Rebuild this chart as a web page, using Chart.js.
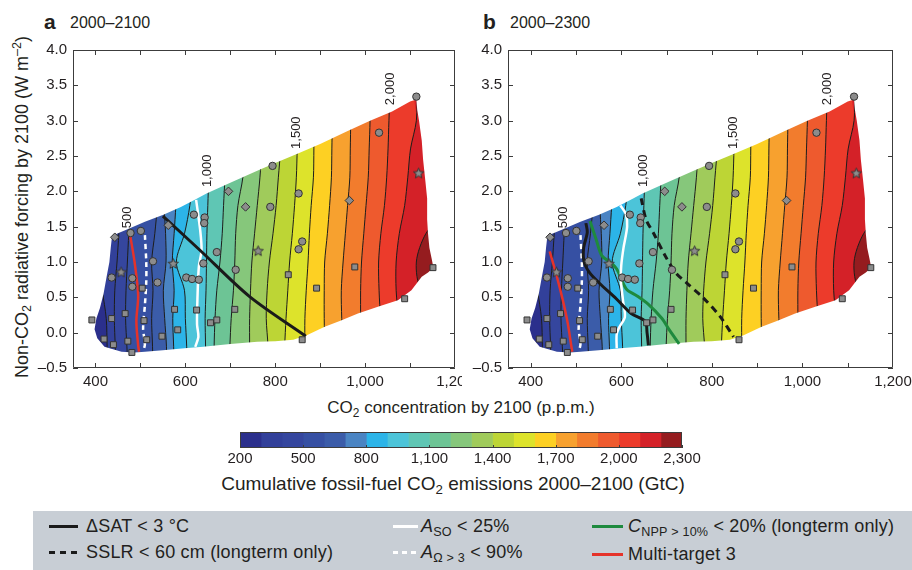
<!DOCTYPE html>
<html>
<head>
<meta charset="utf-8">
<title>Non-CO2 forcing vs CO2 concentration</title>
<script src="https://cdn.jsdelivr.net/npm/chart.js@4.4.1/dist/chart.umd.min.js"></script>
<style>
  body { margin: 0; width: 912px; height: 570px; position: relative; overflow: hidden; background: #fff;
         font-family: "Liberation Sans", Arial, Helvetica, sans-serif; color: #231f20; }
  canvas { position: absolute; }
  .t { position: absolute; white-space: nowrap; }
  .sub { font-size: 70%; vertical-align: -0.3em; font-style: normal; }
  .sup { font-size: 70%; vertical-align: 0.55em; }
  .ln { position: absolute; height: 3px; width: 29px; }
  .lg { font-size: 18px; line-height: 20px; letter-spacing: 0.2px; }
</style>
</head>
<body>

<div class="t" style="left:44px;top:10px;font-size:21px;font-weight:bold;line-height:24px">a</div>
<div class="t" style="left:70px;top:13px;font-size:16px;line-height:20px">2000–2100</div>
<div class="t" style="left:483px;top:10px;font-size:21px;font-weight:bold;line-height:24px">b</div>
<div class="t" style="left:510px;top:13px;font-size:16px;line-height:20px">2000–2300</div>

<div class="t" style="left:22px;top:207px;font-size:18px;line-height:20px;transform:translate(-50%,-50%) rotate(-90deg)">Non-CO<span class="sub">2</span> radiative forcing by 2100 (W m<span class="sup">–2</span>)</div>
<div class="t" style="left:461px;top:398px;font-size:17px;line-height:20px;transform:translateX(-50%)">CO<span class="sub">2</span> concentration by 2100 (p.p.m.)</div>
<div class="t" style="left:453px;top:474px;font-size:19px;line-height:20px;transform:translateX(-50%)">Cumulative fossil-fuel CO<span class="sub">2</span> emissions 2000–2100 (GtC)</div>

<canvas id="pa" width="462" height="360" style="left:0;top:40px"></canvas>
<canvas id="pb" width="462" height="360" style="left:450px;top:40px"></canvas>
<canvas id="cb" width="485" height="46" style="left:220px;top:428px"></canvas>

<div style="position:absolute;left:33px;top:511px;width:879px;height:59px;background:#c8ced5"></div>
<div class="ln" style="left:49px;top:525px;background:#1a1a1a"></div>
<div class="t lg" style="left:86px;top:516px">ΔSAT &lt; 3 °C</div>
<div class="ln" style="left:49px;top:551px;background:repeating-linear-gradient(90deg,#1a1a1a 0 6px,transparent 6px 11px)"></div>
<div class="t lg" style="left:86px;top:542px">SSLR &lt; 60 cm (longterm only)</div>
<div class="ln" style="left:393px;top:525px;width:25px;background:#fff"></div>
<div class="t lg" style="left:421px;top:516px"><i>A</i><span class="sub">SO</span> &lt; 25%</div>
<div class="ln" style="left:393px;top:551px;width:25px;background:repeating-linear-gradient(90deg,#fff 0 5px,transparent 5px 9px)"></div>
<div class="t lg" style="left:421px;top:542px"><i>A</i><span class="sub">Ω &gt; 3</span> &lt; 90%</div>
<div class="ln" style="left:592px;top:525px;width:31px;background:#1e8a3e"></div>
<div class="t lg" style="left:628px;top:516px"><i>C</i><span class="sub">NPP &gt; 10%</span> &lt; 20% (longterm only)</div>
<div class="ln" style="left:592px;top:553px;width:31px;background:#e5332a"></div>
<div class="t lg" style="left:628px;top:544px">Multi-target 3</div>

<script>
'use strict';

// ---- emissions field: x position (p.p.m.) of each contour at these forcing levels
const contourY = [-0.5, -0.2, 0.2, 0.6, 1.0, 1.4, 1.8, 2.2, 2.6, 3.0, 3.5];
const contourLevels = [300, 400, 500, 600, 700, 800, 900, 1000, 1100, 1200,
                       1300, 1400, 1500, 1600, 1700, 1800, 1900, 2000, 2100, 2200];
const contourX = [
  [428, 426, 424, 415, 405, 398, 392, 390, 390, 390, 390],          // 300
  [445, 444, 442, 443, 448, 452, 456, 458, 460, 462, 464],          // 400
  [472, 470, 467, 468, 471, 474, 477, 480, 482, 484, 486],          // 500
  [528, 527, 525, 528, 525, 532, 538, 543, 547, 550, 552],          // 600
  [558, 558, 554, 551, 557, 556, 553, 556, 559, 561, 563],          // 700
  [575, 574, 572, 575, 571, 575, 579, 583, 586, 589, 591],          // 800
  [604, 603, 600, 598, 580, 598, 610, 616, 619, 622, 624],          // 900
  [645, 645, 644, 646, 647, 648, 650, 652, 654, 656, 658],          // 1000
  [664, 664, 666, 670, 677, 682, 685, 688, 690, 692, 694],          // 1100
  [697, 699, 702, 707, 710, 712, 717, 728, 732, 735, 738],          // 1200
  [743, 743, 743, 745, 748, 754, 760, 766, 770, 772, 775],          // 1300
  [784, 784, 780, 782, 787, 795, 802, 807, 812, 815, 818],          // 1400
  [820, 821, 824, 828, 832, 838, 843, 847, 849, 851, 853],          // 1500
  [866, 866, 866, 869, 873, 876, 880, 885, 886, 887, 888],          // 1600
  [910, 910, 909, 909, 910, 916, 921, 925, 926, 927, 928],          // 1700
  [951, 951, 948, 947, 951, 956, 961, 966, 967, 968, 969],          // 1800
  [990, 990, 990, 990, 992, 997, 1002, 1007, 1009, 1011, 1012],     // 1900
  [1035, 1035, 1034, 1031, 1030, 1035, 1043, 1048, 1051, 1053, 1056], // 2000
  [1075, 1075, 1074, 1069, 1069, 1076, 1088, 1095, 1101, 1114, 1116], // 2100
  [1200, 1200, 1190, 1125, 1114, 1135, 1185, 1200, 1200, 1200, 1200]  // 2200
];
// one colour per 100 GtC, 200 -> 2300
const bandColors = ['#2b2f8c', '#32409a', '#35469e', '#3650a3', '#3b5ca9', '#4a84c3', '#2cb4e8',
                    '#4cc4d9', '#5fc6b4', '#6dc495', '#86c77b', '#a0cb5b', '#bdd535', '#dde32b',
                    '#fdd023', '#f7a12f', '#f27c2d', '#ee5a2e', '#ec3b2b', '#d42128', '#951c1f'];

// outline of the sampled scenario space (clockwise)
const regionX = [487, 458, 420, 404, 398, 402, 410, 418, 425, 431, 434, 437,
                 470, 510, 551, 590, 621, 647, 700, 760, 800, 848, 900, 960, 1011, 1060, 1100, 1114,
                 1116, 1120, 1126, 1129, 1134, 1138, 1138, 1140, 1143, 1148, 1152,
                 1140, 1126, 1103, 1073, 1030, 984, 945, 910, 869,
                 840, 800, 760, 700, 640, 598, 550, 510];
const regionY = [-0.28, -0.27, -0.2, -0.08, 0.05, 0.2, 0.35, 0.55, 0.8, 1.0, 1.2, 1.37,
                 1.46, 1.57, 1.67, 1.78, 1.88, 1.97, 2.12, 2.29, 2.4, 2.53, 2.67, 2.85, 3.0, 3.13, 3.27, 3.3,
                 3.15, 3.0, 2.72, 2.45, 2.15, 1.9, 1.6, 1.4, 1.2, 1.05, 0.92,
                 0.85, 0.79, 0.6, 0.46, 0.37, 0.27, 0.17, 0.085, -0.04,
                 -0.1, -0.12, -0.13, -0.16, -0.2, -0.22, -0.25, -0.27];

// scenarios
const circX = [501, 478, 528, 482, 482, 436, 538, 619, 643, 642, 640, 602, 615, 630, 670, 712, 789, 852, 860, 852, 794, 1031, 1114];
const circY = [1.44, 1.41, 1.01, 0.77, 0.65, 0.78, 0.71, 1.67, 1.63, 1.55, 0.98, 0.78, 0.76, 0.75, 1.14, 0.89, 1.78, 1.97, 1.29, 1.18, 2.36, 2.83, 3.34];
const sqX = [392, 436, 466, 419, 440, 472, 481, 504, 508, 514, 548, 576, 583, 625, 656, 670, 710, 829, 892, 977, 1088, 1151, 860];
const sqY = [0.18, 0.2, 0.27, -0.09, -0.17, -0.12, -0.28, 0.63, 0.17, -0.1, -0.05, 0.33, 0.04, 0.32, 0.14, 0.18, 0.33, 0.82, 0.63, 0.93, 0.48, 0.92, -0.1];
const diaX = [443, 562, 696, 734, 965];
const diaY = [1.35, 1.52, 2.0, 1.78, 1.87];
const starX = [457, 573, 762, 1119];
const starY = [0.86, 0.98, 1.16, 2.26];

// target lines, panel a (2000-2100)
const satAX = [550, 632, 743, 868];
const satAY = [1.65, 1.17, 0.51, -0.05];
const asoAX = [624, 633, 636, 630, 627, 626, 629, 622];
const asoAY = [1.88, 1.45, 1.17, 0.93, 0.5, 0.12, -0.06, -0.2];
const multiAX = [476, 487, 495, 491, 495, 497];
const multiAY = [1.42, 1.0, 0.53, 0.16, -0.18, -0.27];
// aragonite line, same in both panels
const omegaX = [510, 513, 513, 510, 506, 510, 507];
const omegaY = [1.38, 1.0, 0.72, 0.39, 0.06, -0.16, -0.25];

// target lines, panel b (2000-2300)
const satBX = [522, 525, 517, 518, 530, 552, 589, 622, 653, 657, 660];
const satBY = [1.55, 1.42, 1.2, 1.0, 0.85, 0.7, 0.48, 0.27, 0.16, 0.0, -0.18];
const sslrX = [644, 655, 672, 696, 720, 745, 780, 818, 848];
const sslrY = [1.9, 1.6, 1.4, 1.1, 0.85, 0.7, 0.5, 0.23, -0.06];
const asoBX = [598, 610, 613, 605, 600, 599, 604, 608, 596, 590, 590];
const asoBY = [1.8, 1.68, 1.5, 1.2, 0.95, 0.75, 0.45, 0.22, 0.08, -0.02, -0.22];
const cnppX = [531, 545, 557, 575, 590, 611, 635, 660, 690, 705, 728];
const cnppY = [1.58, 1.31, 1.09, 1.0, 0.9, 0.62, 0.52, 0.4, 0.2, 0.05, -0.16];
const multiBX = [442, 456, 471, 482, 490, 492];
const multiBY = [1.15, 0.84, 0.46, 0.13, -0.2, -0.27];

// contour labels
const labelText = ['500', '1,000', '1,500', '2,000'];
const labelX = [472, 648, 848, 1056];
const labelY = [1.63, 2.29, 2.83, 3.45];

// axes
const xLabelTicks = [400, 600, 800, 1000, 1200];
const xMinorTicks = [400, 500, 600, 700, 800, 900, 1000, 1100];
const yTicks = [-0.5, 0, 0.5, 1, 1.5, 2, 2.5, 3, 3.5, 4];
const cbTicks = [200, 500, 800, 1100, 1400, 1700, 2000, 2300];

Chart.defaults.font.family = '"Liberation Sans", Arial, sans-serif';
Chart.defaults.font.size = 15;
Chart.defaults.color = '#231f20';

const NONE = 'rgba(0,0,0,0)';
const fmt = v => v.toLocaleString('en-US');

function pts(xs, ys) {
  return xs.map((x, i) => ({x: x, y: ys[i]}));
}

// keep the plot box where it is, whatever the labels stick out
function noPad(s) {
  s.paddingLeft = 0; s.paddingRight = 0; s.paddingTop = 0; s.paddingBottom = 0;
}

function fieldSets() {
  let sets = [];
  // lowest band covers everything, the next ones are painted over it left to right
  sets.push({data: pts([300, 1300, 1300, 300], [-0.5, -0.5, 3.5, 3.5]), backgroundColor: bandColors[0],
             borderColor: NONE, fill: 'shape', pointRadius: 0, order: 300});
  contourX.forEach((xs, i) => {
    let line = pts(xs, contourY);
    sets.push({data: line.concat([{x: 1300, y: 3.5}, {x: 1300, y: -0.5}]), backgroundColor: bandColors[i + 1],
               borderColor: NONE, fill: 'shape', pointRadius: 0, tension: 0.3, order: 299 - i});
    sets.push({data: line, borderColor: '#1d1d1b', borderWidth: 1, fill: false, pointRadius: 0,
               tension: 0.3, order: 60});
  });
  // white mask outside the scenario region
  let reg = pts(regionX, regionY);
  let outer = pts([300, 1300, 1300, 300, 300], [-1, -1, 5, 5, -1]);
  sets.push({data: outer.concat(reg, [reg[0], outer[0]]), backgroundColor: '#ffffff', borderColor: NONE,
             fill: 'shape', pointRadius: 0, order: 50});
  return sets;
}

function lineSet(xs, ys, color, width, dash) {
  return {data: pts(xs, ys), borderColor: color, borderWidth: width, borderDash: dash || [],
          fill: false, pointRadius: 0, tension: 0.3, order: 20};
}

function starImage() {
  const c = document.createElement('canvas');
  c.width = 13; c.height = 13;
  const g = c.getContext('2d');
  g.beginPath();
  for (let i = 0; i < 10; i++) {
    const r = i % 2 ? 2.4 : 5.4;
    const a = -Math.PI / 2 + i * Math.PI / 5;
    g.lineTo(6.5 + r * Math.cos(a), 7 + r * Math.sin(a));
  }
  g.closePath();
  g.fillStyle = '#8c8c8c';
  g.fill();
  g.strokeStyle = '#333';
  g.lineWidth = 1;
  g.stroke();
  return c;
}
const star = starImage();

function markerSets() {
  const base = {showLine: false, pointBackgroundColor: '#8c8c8c', pointBorderColor: '#333',
                pointBorderWidth: 1, order: 1};
  return [
    Object.assign({data: pts(circX, circY), pointStyle: 'circle', pointRadius: 3.7}, base),
    Object.assign({data: pts(sqX, sqY), pointStyle: 'rect', pointRadius: 4.2}, base),
    Object.assign({data: pts(diaX, diaY), pointStyle: 'rectRot', pointRadius: 4.3}, base),
    Object.assign({data: pts(starX, starY), pointStyle: star, pointRadius: 6}, base)
  ];
}

function framePlugin(xt, yt, top, right) {
  return {
    id: 'frame',
    afterDatasetsDraw(chart) {
      const {ctx, chartArea: a} = chart;
      const sx = chart.scales.x, sy = chart.scales.y;
      ctx.save();
      ctx.strokeStyle = '#3c3c3c';
      ctx.lineWidth = 1;
      ctx.beginPath();
      ctx.rect(a.left + 0.5, a.top + 0.5, a.width - 1, a.height - 1);
      xt.forEach(v => {
        const p = Math.round(sx.getPixelForValue(v)) + 0.5;
        ctx.moveTo(p, a.bottom); ctx.lineTo(p, a.bottom - (top ? 5 : 3));
        if (top) { ctx.moveTo(p, a.top); ctx.lineTo(p, a.top + 5); }
      });
      yt.forEach(v => {
        const p = Math.round(sy.getPixelForValue(v)) + 0.5;
        ctx.moveTo(a.left, p); ctx.lineTo(a.left + 5, p);
        if (right) { ctx.moveTo(a.right, p); ctx.lineTo(a.right - 5, p); }
      });
      ctx.stroke();
      ctx.restore();
    }
  };
}

const labelPlugin = {
  id: 'clabels',
  afterDatasetsDraw(chart) {
    const {ctx} = chart;
    const sx = chart.scales.x, sy = chart.scales.y;
    ctx.save();
    ctx.fillStyle = '#231f20';
    ctx.font = '13px "Liberation Sans", Arial, sans-serif';
    ctx.textAlign = 'center';
    ctx.textBaseline = 'middle';
    labelText.forEach((t, i) => {
      ctx.save();
      ctx.translate(sx.getPixelForValue(labelX[i]), sy.getPixelForValue(labelY[i]));
      ctx.rotate(-Math.PI / 2);
      ctx.fillText(t, 0, 0);
      ctx.restore();
    });
    ctx.restore();
  }
};

function makePanel(id, yWidth, padRight, lines) {
  return new Chart(document.getElementById(id), {
    type: 'line',
    data: {datasets: fieldSets().concat(lines, markerSets())},
    options: {
      responsive: false,
      animation: false,
      events: [],
      layout: {autoPadding: false, padding: {top: 10, right: padRight, left: 0, bottom: 0}},
      plugins: {legend: {display: false}, tooltip: {enabled: false}},
      scales: {
        x: {
          type: 'linear', min: 350, max: 1200,
          afterFit: s => { s.height = 32; noPad(s); },
          afterBuildTicks: s => { s.ticks = xLabelTicks.map(v => ({value: v})); },
          grid: {display: false, drawTicks: false}, border: {display: false},
          ticks: {autoSkip: false, maxRotation: 0, padding: 5, callback: v => fmt(v)}
        },
        y: {
          type: 'linear', min: -0.5, max: 4,
          afterFit: s => { s.width = yWidth; noPad(s); },
          afterBuildTicks: s => { s.ticks = yTicks.map(v => ({value: v})); },
          grid: {display: false, drawTicks: false}, border: {display: false},
          ticks: {padding: 6, callback: v => (v < 0 ? '\u2013' : '') + Math.abs(v).toFixed(1)}
        }
      }
    },
    plugins: [framePlugin(xMinorTicks, yTicks, true, true), labelPlugin]
  });
}

makePanel('pa', 73, 7, [
  lineSet(satAX, satAY, '#1a1a1a', 3),
  lineSet(asoAX, asoAY, '#ffffff', 2.5),
  lineSet(omegaX, omegaY, '#ffffff', 2.5, [5, 4]),
  lineSet(multiAX, multiAY, '#e5332a', 2.5)
]);

makePanel('pb', 58, 19, [
  lineSet(satBX, satBY, '#1a1a1a', 3),
  lineSet(sslrX, sslrY, '#1a1a1a', 3, [7, 5]),
  lineSet(asoBX, asoBY, '#ffffff', 2.5),
  lineSet(omegaX, omegaY, '#ffffff', 2.5, [5, 4]),
  lineSet(cnppX, cnppY, '#1e8a3e', 3),
  lineSet(multiBX, multiBY, '#e5332a', 2.5)
]);

// colour bar
new Chart(document.getElementById('cb'), {
  type: 'bar',
  data: {
    labels: ['GtC'],
    datasets: bandColors.map((c, i) => ({
      data: [[200 + 100 * i, 300 + 100 * i]], backgroundColor: c, borderWidth: 0,
      barPercentage: 1, categoryPercentage: 1, grouped: false
    }))
  },
  options: {
    indexAxis: 'y',
    responsive: false,
    animation: false,
    events: [],
    layout: {autoPadding: false, padding: {top: 4, right: 23, left: 20, bottom: 0}},
    plugins: {legend: {display: false}, tooltip: {enabled: false}},
    scales: {
      x: {
        type: 'linear', min: 200, max: 2300,
        afterFit: s => { s.height = 26; noPad(s); },
        afterBuildTicks: s => { s.ticks = cbTicks.map(v => ({value: v})); },
        grid: {display: false, drawTicks: false}, border: {display: false},
        ticks: {autoSkip: false, maxRotation: 0, padding: 2, callback: v => fmt(v)}
      },
      y: {display: false}
    }
  },
  plugins: [framePlugin(cbTicks, [], false, false)]
});
</script>
</body>
</html>
